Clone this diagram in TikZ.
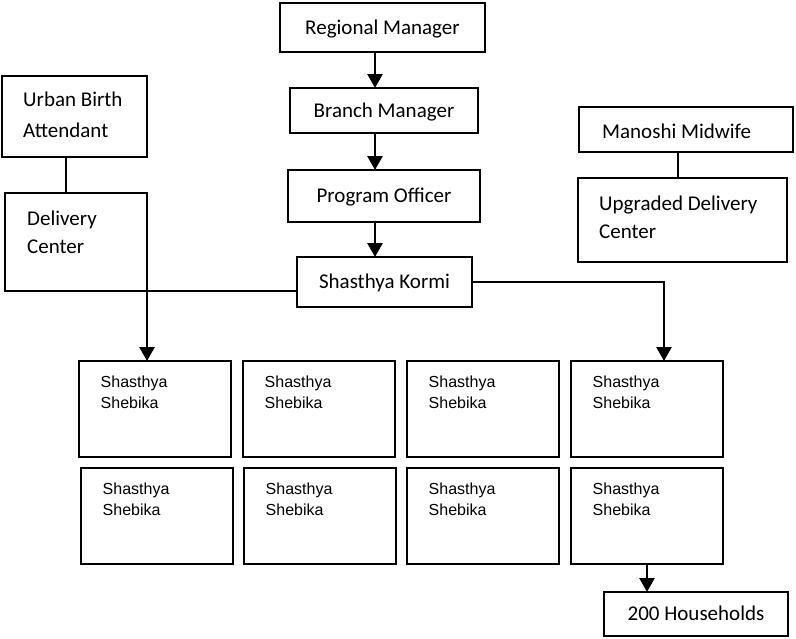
\documentclass[tikz,border=0pt]{standalone}
\usepackage{fontspec}
\setmainfont{Carlito}
\newfontfamily\arialf{Liberation Sans}
\usetikzlibrary{arrows.meta,calc}
\begin{document}
\begin{tikzpicture}[x=1pt,y=-1pt,
  box/.style={draw, line width=2.8pt, inner sep=0pt, outer sep=0pt, anchor=north west, font=\fontsize{21}{25}\selectfont},
  cbox/.style={box, text height=13.5pt, text depth=0pt},
  hdtext/.style={inner sep=0pt, anchor=base west, font=\fontsize{21}{25}\selectfont},
  sstext/.style={inner sep=0pt, anchor=base west, font=\arialf\fontsize{16}{19}\selectfont},
  conn/.style={line width=2.8pt},
  arr/.style={line width=2.8pt, -{Triangle[width=15pt,length=14pt]}}]
\useasboundingbox (0,0) rectangle (796,638);

% central chain
\node[cbox, minimum width=205pt, minimum height=49pt] (rm) at (280,3) {Regional Manager};
\node[cbox, minimum width=188pt, minimum height=45pt] (bm) at (290,88) {Branch Manager};
\node[cbox, minimum width=192pt, minimum height=52pt] (po) at (288,170) {Program Officer};
\node[cbox, minimum width=175pt, minimum height=50pt] (sk) at (297,257) {Shasthya Kormi};

% left side
\node[box, minimum width=145pt, minimum height=81pt] (uba) at (2,76) {};
\node[hdtext] (ubat1) at ([xshift=21pt,yshift=-30.7pt]uba.north west) {Urban Birth};
\node[hdtext] (ubat2) at ([xshift=21pt,yshift=-61.3pt]uba.north west) {Attendant};
\node[box, minimum width=142pt, minimum height=98pt] (dc) at (5,193) {};
\node[hdtext] (dct1) at ([xshift=22pt,yshift=-32pt]dc.north west) {Delivery};
\node[hdtext] (dct2) at ([xshift=22pt,yshift=-60.3pt]dc.north west) {Center};

% right side
\node[box, minimum width=214pt, minimum height=45pt] (mm) at (579,107) {};
\node[hdtext] (mmt) at ([xshift=23pt,yshift=-31.3pt]mm.north west) {Manoshi Midwife};
\node[box, minimum width=209pt, minimum height=84pt] (udc) at (578,178) {};
\node[hdtext] (udct1) at ([xshift=21pt,yshift=-32pt]udc.north west) {Upgraded Delivery};
\node[hdtext] (udct2) at ([xshift=21pt,yshift=-60.3pt]udc.north west) {Center};

% Shasthya Shebika grid
\foreach \i/\x/\y in {1/79/361, 2/243/361, 3/407/361, 4/571/361,
                      5/81/468, 6/244/468, 7/407/468, 8/571/468} {
  \node[box, minimum width=152pt, minimum height=96pt] (ss\i) at (\x,\y) {};
  \node[sstext] (ss\i a) at ([xshift=21.5pt,yshift=-26pt]ss\i.north west) {Shasthya};
  \node[sstext] (ss\i b) at ([xshift=21.5pt,yshift=-47.6pt]ss\i.north west) {Shebika};
}

\node[cbox, minimum width=184pt, minimum height=44pt] (hh) at (604,592) {200 Households};

% connectors
\coordinate (cx) at (375,0);
\draw[arr] (rm.south -| cx) -- (bm.north -| cx);
\draw[arr] (bm.south -| cx) -- (po.north -| cx);
\draw[arr] (po.south -| cx) -- (sk.north -| cx);

\coordinate (lx) at (66,0);
\draw[conn] (uba.south -| lx) -- (dc.north -| lx);
\coordinate (mx) at (678,0);
\draw[conn] (mm.south -| mx) -- (udc.north -| mx);

\draw[arr] (sk.west |- dc.south) -- (dc.south east) -- (ss1.north -| dc.south east);
\coordinate (rx) at (664,282);
\draw[arr] (sk.east) -- (rx) -- (ss4.north -| rx);

\draw[arr] (ss8.south) -- (hh.north -| ss8.south);
\end{tikzpicture}
\end{document}
